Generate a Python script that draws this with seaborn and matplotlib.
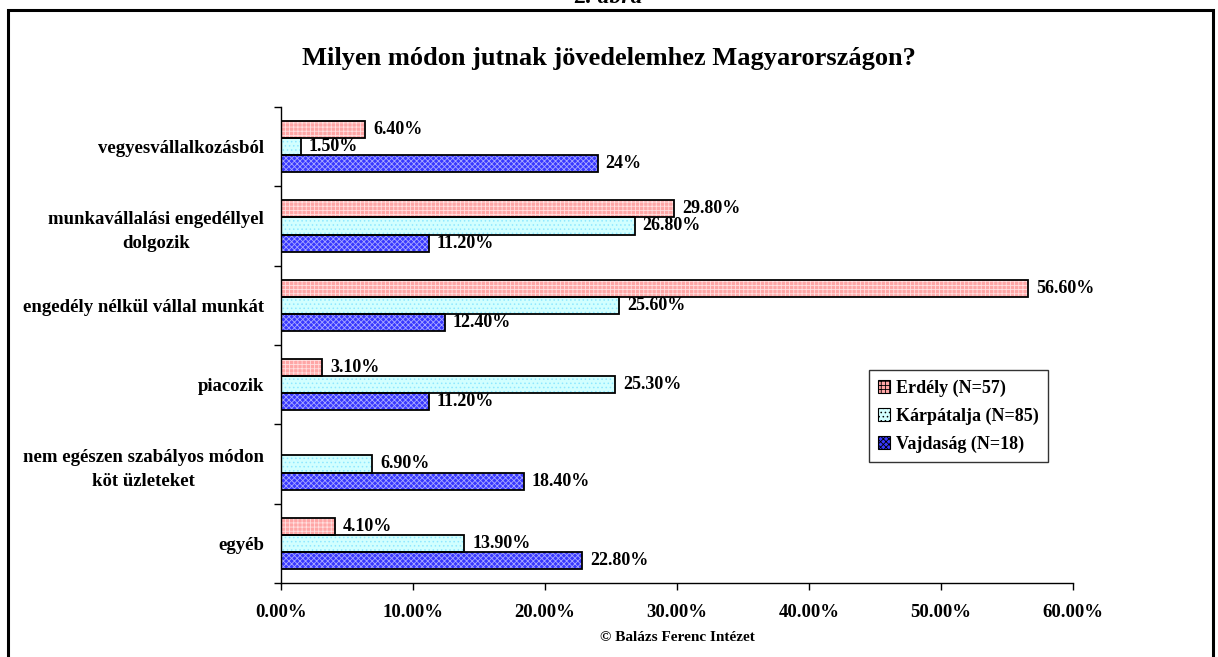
import numpy as np
import pandas as pd
import matplotlib
matplotlib.use('Agg')
import matplotlib.pyplot as plt
import seaborn as sns
from matplotlib.patches import Rectangle, Patch

# data
categories = ['vegyesvállalkozásból',
              'munkavállalási engedéllyel\ndolgozik',
              'engedély nélkül vállal munkát',
              'piacozik',
              'nem egészen szabályos módon\nköt üzleteket',
              'egyéb']
series = ['Erdély (N=57)', 'Kárpátalja (N=85)', 'Vajdaság (N=18)']
erdely = [6.4, 29.8, 56.6, 3.1, np.nan, 4.1]
karpatalja = [1.5, 26.8, 25.6, 25.3, 6.9, 13.9]
vajdasag = [24.0, 11.2, 12.4, 11.2, 18.4, 22.8]
erdely_labels = ['6.40%', '29.80%', '56.60%', '3.10%', '', '4.10%']
karpatalja_labels = ['1.50%', '26.80%', '25.60%', '25.30%', '6.90%', '13.90%']
vajdasag_labels = ['24%', '11.20%', '12.40%', '11.20%', '18.40%', '22.80%']
x_ticks = [0, 10, 20, 30, 40, 50, 60]
x_tick_labels = ['0.00%', '10.00%', '20.00%', '30.00%', '40.00%', '50.00%', '60.00%']

rows = []
for s, vals in zip(series, [erdely, karpatalja, vajdasag]):
    for c, v in zip(categories, vals):
        rows.append({'category': c, 'series': s, 'value': v})
df = pd.DataFrame(rows).dropna()
labels = dict(zip(series, [erdely_labels, karpatalja_labels, vajdasag_labels]))

# face colour, hatch, hatch colour
styles = {
    series[0]: ('#ffa6a6', '++++', '#ffe0e0'),
    series[1]: ('#d2ffff', '....', '#8fe8ff'),
    series[2]: ('#3838ff', 'xxxxxx', '#a8a8ff'),
}

sns.set_style('white')
plt.rcParams['font.family'] = ['Liberation Serif', 'DejaVu Serif']
plt.rcParams['font.weight'] = 'bold'
plt.rcParams['text.color'] = 'black'
plt.rcParams['xtick.color'] = 'black'
plt.rcParams['ytick.color'] = 'black'
plt.rcParams['axes.labelcolor'] = 'black'
plt.rcParams['hatch.linewidth'] = 0.6

fig = plt.figure(figsize=(12.18, 6.57), dpi=100)
ax = fig.add_axes([281 / 1218, 1 - 583 / 657, 792 / 1218, 476 / 657])

sns.barplot(data=df, x='value', y='category', hue='series', order=categories,
            hue_order=series, orient='h', width=0.65, legend=False,
            palette=[styles[s][0] for s in series], ax=ax)

for s, cont in zip(series, ax.containers):
    face, hatch, hcol = styles[s]
    for bar in cont:
        bar.set_facecolor(face)
        bar.set_hatch(hatch)
        bar.set_edgecolor(hcol)
        bar.set_linewidth(0)
        x0, y0 = bar.get_x(), bar.get_y()
        w, h = bar.get_width(), bar.get_height()
        ax.add_patch(Rectangle((x0, y0), w, h, fill=False, ec='black', lw=1.3, zorder=3))
        idx = int(round(y0 + h / 2))
        ax.text(x0 + w + 0.6, y0 + h / 2, labels[s][idx], va='center', ha='left',
                fontsize=13, fontweight='bold')

ax.set_xlim(0, 60)
ax.set_ylim(len(categories) - 0.5, -0.5)
ax.set_xticks(x_ticks)
ax.set_xticklabels(x_tick_labels, fontsize=13.5, fontweight='bold')
ax.set_yticks(range(len(categories)))
ax.set_yticklabels(categories, fontsize=13.5, fontweight='bold')
for t in ax.get_yticklabels():
    t.set_multialignment('center')
    t.set_linespacing(1.5)
ax.set_yticks(np.arange(-0.5, len(categories)), minor=True)
ax.tick_params(axis='y', which='major', length=0, pad=12)
ax.tick_params(axis='y', which='minor', length=5, width=1, color='black', direction='out', left=True)
ax.tick_params(axis='x', length=5, width=1, color='black', direction='out', bottom=True, pad=10)
ax.set_xlabel('© Balázs Ferenc Intézet', fontsize=11, fontweight='bold', labelpad=7)
ax.set_ylabel('')
for side in ['top', 'right']:
    ax.spines[side].set_visible(False)
for side in ['left', 'bottom']:
    ax.spines[side].set_color('black')
    ax.spines[side].set_linewidth(1)

handles = [Patch(facecolor=styles[s][0], edgecolor=styles[s][2], hatch=styles[s][1], lw=0) for s in series]
leg = ax.legend(handles, series, loc='upper left', bbox_to_anchor=(0.742, 0.447),
                frameon=True, fancybox=False, handlelength=0.7,
                handleheight=0.7, handletextpad=0.3, labelspacing=0.6,
                borderpad=0.5, borderaxespad=0, prop={'weight': 'bold', 'size': 13})
leg.get_frame().set_edgecolor('black')
leg.get_frame().set_linewidth(1)
for lh in leg.legend_handles:
    lh.set_edgecolor('black')
    lh.set_linewidth(0.8)

fig.text(0.5, 1 - 58 / 657, 'Milyen módon jutnak jövedelemhez Magyarországon?',
         ha='center', va='center', fontsize=19, fontweight='bold')
fig.text(0.5, 1.004, '2. ábra', ha='center', va='center', fontsize=17,
         fontweight='bold', style='italic')
fig.add_artist(Rectangle((8 / 1218, -0.05), 1205 / 1218, 1.05 - 10 / 657,
                         transform=fig.transFigure, fill=False, ec='black', lw=2.2))

fig.savefig('out.png', dpi=100)
